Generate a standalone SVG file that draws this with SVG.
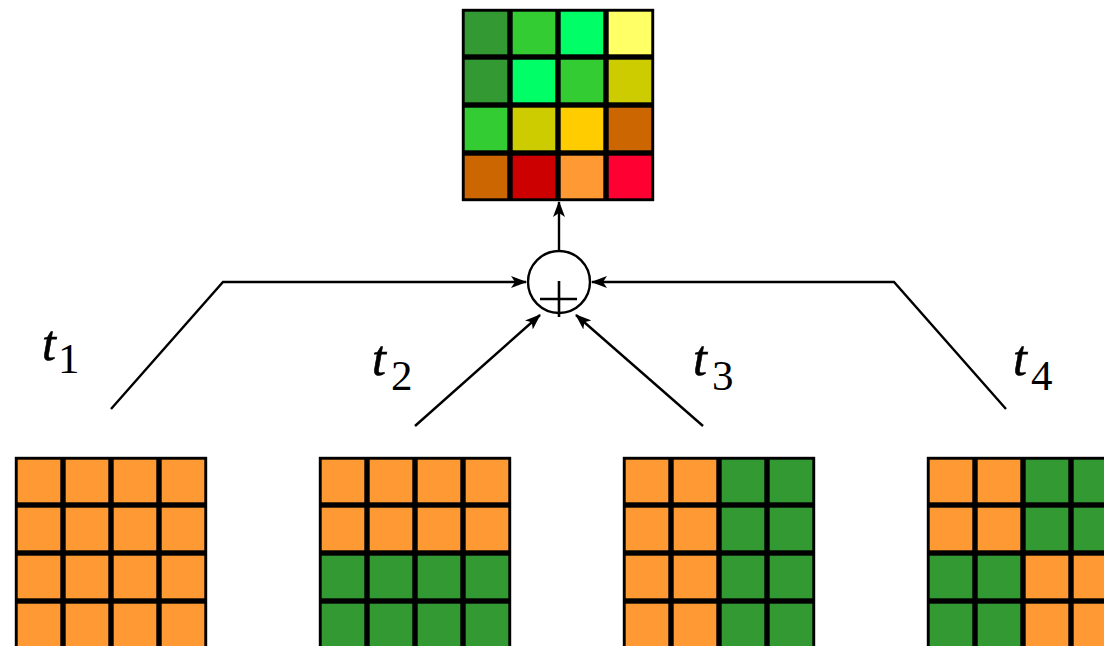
<svg xmlns="http://www.w3.org/2000/svg" xmlns:xlink="http://www.w3.org/1999/xlink" width="1104" height="646" viewBox="0 0 1104 646">
<style>
.ln{fill:none;stroke:#000;stroke-width:2.4}
.lbl{font-family:"Liberation Serif","Times New Roman",serif;font-style:italic;font-size:50px;fill:#000;stroke:#000;stroke-width:0.6}
.sub{font-family:"Liberation Serif","Times New Roman",serif;font-size:43px;fill:#000}
.O{fill:#ff9933}.G{fill:#339933}.L{fill:#33cc33}.S{fill:#00ff66}.Y{fill:#ffff66}.V{fill:#cccc00}.Au{fill:#ffcc00}.B{fill:#cc6600}.R{fill:#cc0000}.C{fill:#ff0033}
</style>
<defs>
<rect id="c" width="45.3" height="45.3" stroke="#000" stroke-width="2.7"/>
<path id="gl" d="M0,0H192M0,48H192M0,96H192M0,144H192M0,192H192M0,0V192M48,0V192M96,0V192M144,0V192M192,0V192" fill="none" stroke="#999" stroke-width="1"/>
<marker id="ah" viewBox="0 0 16 12" refX="15" refY="6" markerWidth="16" markerHeight="12" markerUnits="userSpaceOnUse" orient="auto">
<path d="M0,0 L16,6 L0,12 L4,6 Z" fill="#000"/>
</marker>
</defs>

<g id="output">
<use xlink:href="#gl" x="462" y="9"/>
<g transform="translate(463.35,10.35)">
<use xlink:href="#c" x="0" y="0" class="G"/><use xlink:href="#c" x="48" y="0" class="L"/><use xlink:href="#c" x="96" y="0" class="S"/><use xlink:href="#c" x="144" y="0" class="Y"/>
<use xlink:href="#c" x="0" y="48" class="G"/><use xlink:href="#c" x="48" y="48" class="S"/><use xlink:href="#c" x="96" y="48" class="L"/><use xlink:href="#c" x="144" y="48" class="V"/>
<use xlink:href="#c" x="0" y="96" class="L"/><use xlink:href="#c" x="48" y="96" class="V"/><use xlink:href="#c" x="96" y="96" class="Au"/><use xlink:href="#c" x="144" y="96" class="B"/>
<use xlink:href="#c" x="0" y="144" class="B"/><use xlink:href="#c" x="48" y="144" class="R"/><use xlink:href="#c" x="96" y="144" class="O"/><use xlink:href="#c" x="144" y="144" class="C"/>
</g>
</g>

<g id="sum">
<circle cx="559" cy="282" r="31" fill="#fff" stroke="#000" stroke-width="2.4"/>
<path d="M540,299H577M559,281V317" fill="none" stroke="#000" stroke-width="2.6"/>
</g>

<g id="t1">
<use xlink:href="#gl" x="15" y="457"/>
<g transform="translate(16.35,458.35)">
<use xlink:href="#c" x="0" y="0" class="O"/><use xlink:href="#c" x="48" y="0" class="O"/><use xlink:href="#c" x="96" y="0" class="O"/><use xlink:href="#c" x="144" y="0" class="O"/>
<use xlink:href="#c" x="0" y="48" class="O"/><use xlink:href="#c" x="48" y="48" class="O"/><use xlink:href="#c" x="96" y="48" class="O"/><use xlink:href="#c" x="144" y="48" class="O"/>
<use xlink:href="#c" x="0" y="96" class="O"/><use xlink:href="#c" x="48" y="96" class="O"/><use xlink:href="#c" x="96" y="96" class="O"/><use xlink:href="#c" x="144" y="96" class="O"/>
<use xlink:href="#c" x="0" y="144" class="O"/><use xlink:href="#c" x="48" y="144" class="O"/><use xlink:href="#c" x="96" y="144" class="O"/><use xlink:href="#c" x="144" y="144" class="O"/>
</g>
<text class="lbl" x="42" y="360">t</text><text class="sub" x="58" y="373">1</text>
</g>

<g id="t2">
<use xlink:href="#gl" x="319" y="457"/>
<g transform="translate(320.35,458.35)">
<use xlink:href="#c" x="0" y="0" class="O"/><use xlink:href="#c" x="48" y="0" class="O"/><use xlink:href="#c" x="96" y="0" class="O"/><use xlink:href="#c" x="144" y="0" class="O"/>
<use xlink:href="#c" x="0" y="48" class="O"/><use xlink:href="#c" x="48" y="48" class="O"/><use xlink:href="#c" x="96" y="48" class="O"/><use xlink:href="#c" x="144" y="48" class="O"/>
<use xlink:href="#c" x="0" y="96" class="G"/><use xlink:href="#c" x="48" y="96" class="G"/><use xlink:href="#c" x="96" y="96" class="G"/><use xlink:href="#c" x="144" y="96" class="G"/>
<use xlink:href="#c" x="0" y="144" class="G"/><use xlink:href="#c" x="48" y="144" class="G"/><use xlink:href="#c" x="96" y="144" class="G"/><use xlink:href="#c" x="144" y="144" class="G"/>
</g>
<text class="lbl" x="372" y="375">t</text><text class="sub" x="391" y="390">2</text>
</g>

<g id="t3">
<use xlink:href="#gl" x="623" y="457"/>
<g transform="translate(624.35,458.35)">
<use xlink:href="#c" x="0" y="0" class="O"/><use xlink:href="#c" x="48" y="0" class="O"/><use xlink:href="#c" x="96" y="0" class="G"/><use xlink:href="#c" x="144" y="0" class="G"/>
<use xlink:href="#c" x="0" y="48" class="O"/><use xlink:href="#c" x="48" y="48" class="O"/><use xlink:href="#c" x="96" y="48" class="G"/><use xlink:href="#c" x="144" y="48" class="G"/>
<use xlink:href="#c" x="0" y="96" class="O"/><use xlink:href="#c" x="48" y="96" class="O"/><use xlink:href="#c" x="96" y="96" class="G"/><use xlink:href="#c" x="144" y="96" class="G"/>
<use xlink:href="#c" x="0" y="144" class="O"/><use xlink:href="#c" x="48" y="144" class="O"/><use xlink:href="#c" x="96" y="144" class="G"/><use xlink:href="#c" x="144" y="144" class="G"/>
</g>
<text class="lbl" x="693" y="375">t</text><text class="sub" x="712" y="390">3</text>
</g>

<g id="t4">
<use xlink:href="#gl" x="927" y="457"/>
<g transform="translate(928.35,458.35)">
<use xlink:href="#c" x="0" y="0" class="O"/><use xlink:href="#c" x="48" y="0" class="O"/><use xlink:href="#c" x="96" y="0" class="G"/><use xlink:href="#c" x="144" y="0" class="G"/>
<use xlink:href="#c" x="0" y="48" class="O"/><use xlink:href="#c" x="48" y="48" class="O"/><use xlink:href="#c" x="96" y="48" class="G"/><use xlink:href="#c" x="144" y="48" class="G"/>
<use xlink:href="#c" x="0" y="96" class="G"/><use xlink:href="#c" x="48" y="96" class="G"/><use xlink:href="#c" x="96" y="96" class="O"/><use xlink:href="#c" x="144" y="96" class="O"/>
<use xlink:href="#c" x="0" y="144" class="G"/><use xlink:href="#c" x="48" y="144" class="G"/><use xlink:href="#c" x="96" y="144" class="O"/><use xlink:href="#c" x="144" y="144" class="O"/>
</g>
<text class="lbl" x="1013" y="375">t</text><text class="sub" x="1031" y="390">4</text>
</g>

<g id="connectors">
<path class="ln" d="M559,251V202" marker-end="url(#ah)"/>
<path class="ln" d="M111,409L223,282H526" marker-end="url(#ah)"/>
<path class="ln" d="M1006,409L894,282H592" marker-end="url(#ah)"/>
<path class="ln" d="M415,426L540,315" marker-end="url(#ah)"/>
<path class="ln" d="M703,426L576,315" marker-end="url(#ah)"/>
</g>
</svg>
